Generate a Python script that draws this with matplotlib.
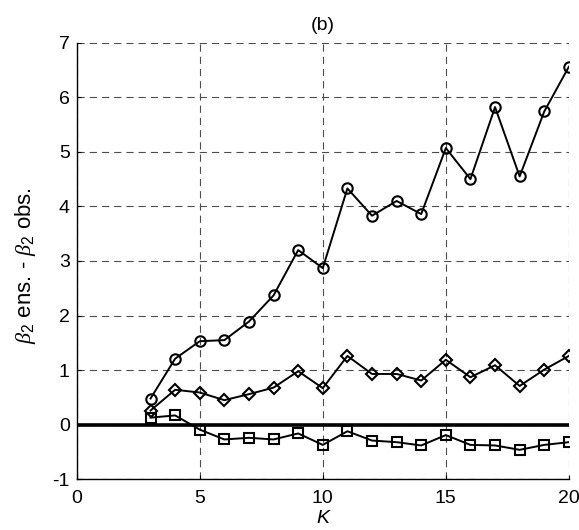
import numpy as np
import matplotlib
matplotlib.use("Agg")
import matplotlib.pyplot as plt

plt.rcParams['font.family'] = ['Liberation Sans', 'DejaVu Sans']
plt.rcParams['mathtext.fontset'] = 'custom'
plt.rcParams['mathtext.it'] = 'Liberation Serif:italic'
plt.rcParams['mathtext.rm'] = 'Liberation Sans'
plt.rcParams['axes.unicode_minus'] = False

# data
K = np.arange(3, 21)
circ = [0.48, 1.21, 1.53, 1.55, 1.89, 2.37, 3.20, 2.87, 4.33, 3.83,
        4.10, 3.86, 5.07, 4.50, 5.82, 4.55, 5.74, 6.56]
diam = [0.26, 0.64, 0.59, 0.45, 0.56, 0.68, 0.98, 0.67, 1.26, 0.93,
        0.93, 0.81, 1.19, 0.87, 1.09, 0.71, 1.01, 1.26]
sqr = [0.13, 0.17, -0.09, -0.27, -0.24, -0.27, -0.16, -0.37, -0.12, -0.29,
       -0.32, -0.38, -0.19, -0.37, -0.38, -0.46, -0.37, -0.32]

xticks = [0, 5, 10, 15, 20]
yticks = [-1, 0, 1, 2, 3, 4, 5, 6, 7]

fig = plt.figure(figsize=(5.79, 5.30), dpi=100)
ax = fig.add_axes([0.1325, 0.0957, 0.85, 0.8237])

ax.axhline(0, color='k', lw=2.6, zorder=2)
ax.plot(K, circ, 'k-o', lw=1.4, ms=7.5, mfc='none', mew=1.5, zorder=3)
ax.plot(K, diam, 'k-D', lw=1.4, ms=6, mfc='none', mew=1.5, zorder=3)
ax.plot(K, sqr, 'k-s', lw=1.4, ms=7, mfc='none', mew=1.5, zorder=3)

ax.set_xlim(0, 20)
ax.set_ylim(-1, 7)
ax.set_xticks(xticks)
ax.set_yticks(yticks)
ax.grid(True, color='0.3', ls=(0, (6.5, 4.5)), lw=0.8)
ax.tick_params(direction='in', labelsize=14, length=3)
ax.tick_params(axis='x', pad=8)
ax.tick_params(axis='y', pad=5)
for s in ['top', 'right']:
    ax.spines[s].set_visible(False)
for s in ['left', 'bottom']:
    ax.spines[s].set_linewidth(1.0)

ax.set_title('(b)', fontsize=14, pad=9)
ax.set_xlabel('K', fontsize=14, style='italic', labelpad=2)
ax.set_ylabel(r'$\mathit{\beta}_2$ ens. - $\mathit{\beta}_2$ obs.', fontsize=16)
ax.yaxis.set_label_coords(-0.079, 0.489)

fig.savefig('out.png', dpi=100)
